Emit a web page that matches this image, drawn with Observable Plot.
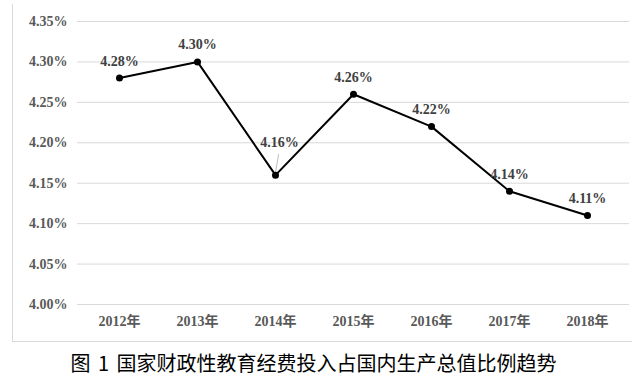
<!DOCTYPE html>
<html>
<head>
<meta charset="utf-8">
<script src="https://cdn.jsdelivr.net/npm/d3@7"></script>
<script src="https://cdn.jsdelivr.net/npm/@observablehq/plot@0.6"></script>
<style>
  html, body { margin: 0; padding: 0; background: #fff; }
  #wrap { position: relative; width: 640px; height: 379px; overflow: hidden; }
  #chart { position: absolute; left: 0; top: 0; }
  #frame { position: absolute; left: 12px; top: 4px; width: 620px; height: 338px;
           border-left: 1px solid #d9d9d9; border-bottom: 1px solid #d9d9d9;
           box-sizing: border-box; pointer-events: none; }
  #caption { position: absolute; left: 0; top: 349px; width: 627px; text-align: center;
             font-family: "Noto Sans CJK SC", sans-serif; font-size: 20px; color: #000;
             line-height: 28px; word-spacing: 3px; white-space: nowrap; }
</style>
</head>
<body>
<div id="wrap">
  <div id="chart"></div>
  <div id="frame"></div>
  <div id="caption">图 1 国家财政性教育经费投入占国内生产总值比例趋势</div>
</div>
<script>
const years = ["2012年", "2013年", "2014年", "2015年", "2016年", "2017年", "2018年"];
const ratios = [4.28, 4.30, 4.16, 4.26, 4.22, 4.14, 4.11];
const yTicks = [4.00, 4.05, 4.10, 4.15, 4.20, 4.25, 4.30, 4.35];

const data = years.map((year, i) => ({ year, value: ratios[i], label: ratios[i].toFixed(2) + "%" }));
const special = data.filter(d => d.year === "2014年");
const normal = data.filter(d => d.year !== "2014年");

const serif = "'Liberation Serif', 'Times New Roman', 'Noto Sans CJK SC', serif";

const leader = {
  draw(context, l) {
    context.moveTo(0, 0);
    context.lineTo(0, -l);
  }
};

const chart = Plot.plot({
  width: 640,
  height: 345,
  marginLeft: 77,
  marginRight: 11,
  marginTop: 21,
  marginBottom: 41,
  style: { fontFamily: serif, background: "transparent", overflow: "visible" },
  x: { type: "point", domain: years, padding: 0.5, label: null },
  y: { domain: [4.00, 4.35], label: null },
  marks: [
    Plot.ruleY(yTicks, { stroke: "#d9d9d9", strokeWidth: 1 }),
    Plot.axisY({ ticks: yTicks, tickSize: 0, tickPadding: 10, tickFormat: d => d.toFixed(2) + "%",
      fontSize: 14, fontWeight: "bold", fill: "#595959", label: null }),
    Plot.axisX({ tickSize: 0, tickPadding: 12, fontSize: 14, fontWeight: "bold", fill: "#595959", label: null }),
    Plot.vector(special, { x: "year", y: "value", length: 18, rotate: 10, anchor: "start", shape: leader,
      stroke: "#bfbfbf", strokeWidth: 1, dy: -3 }),
    Plot.line(data, { x: "year", y: "value", stroke: "#000", strokeWidth: 2 }),
    Plot.dot(data, { x: "year", y: "value", r: 3.5, fill: "#000", stroke: "none" }),
    Plot.text(normal, { x: "year", y: "value", text: "label", dy: -17, fontSize: 14, fontWeight: "bold",
      fill: "#404040", fontFamily: serif }),
    Plot.text(special, { x: "year", y: "value", text: "label", dy: -33, dx: 4, fontSize: 14, fontWeight: "bold",
      fill: "#404040", fontFamily: serif })
  ]
});
document.getElementById("chart").appendChild(chart);
</script>
</body>
</html>
